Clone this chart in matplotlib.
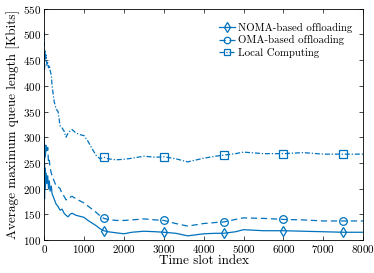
import matplotlib
matplotlib.use("Agg")
import matplotlib.pyplot as plt

# values
xNoma = [0, 10, 20, 30, 50, 70, 90, 110, 130, 150, 180, 200, 250, 300, 350, 400, 450, 500, 550, 600, 650, 700,
         800, 900, 1000, 1100, 1200, 1300, 1400, 1500, 1600, 1800, 2000, 2200, 2500, 2800, 3000, 3300, 3600,
         4000, 4300, 4500, 4800, 5000, 5500, 6000, 6500, 7000, 7500, 8000]
yNoma = [300, 180, 240, 200, 230, 210, 225, 200, 215, 195, 205, 190, 180, 170, 165, 158, 160, 152, 148, 145, 150, 152,
         148, 146, 144, 138, 133, 128, 122, 118, 116, 114, 112, 115, 117, 116, 115, 113, 108,
         112, 113, 113, 116, 120, 118, 118, 117, 116, 115, 115]

xOma = [0, 10, 20, 30, 50, 70, 90, 110, 130, 150, 180, 200, 250, 300, 350, 400, 450, 500, 550, 600, 650, 700,
        800, 900, 1000, 1100, 1200, 1300, 1400, 1500, 1600, 1800, 2000, 2200, 2500, 2800, 3000, 3300, 3600,
        4000, 4300, 4500, 4800, 5000, 5500, 6000, 6500, 7000, 7500, 8000]
yOma = [300, 230, 285, 260, 285, 270, 280, 250, 255, 240, 230, 225, 215, 205, 203, 200, 190, 185, 178, 180, 183, 185,
        180, 176, 172, 166, 160, 154, 147, 142, 140, 138, 138, 139, 141, 139, 138, 132, 127,
        132, 134, 135, 140, 143, 142, 140, 139, 137, 137, 137]

xLocal = [0, 10, 20, 30, 50, 70, 90, 110, 130, 150, 180, 200, 250, 300, 350, 400, 450, 500, 550, 600, 650, 700,
          800, 900, 1000, 1100, 1200, 1300, 1400, 1500, 1600, 1800, 2000, 2200, 2500, 2800, 3000, 3300, 3600,
          4000, 4300, 4500, 4800, 5000, 5500, 6000, 6500, 7000, 7500, 8000]
yLocal = [505, 430, 470, 450, 460, 440, 445, 435, 440, 430, 420, 400, 370, 355, 350, 322, 318, 312, 300, 308, 312, 315,
          308, 305, 303, 292, 278, 265, 258, 261, 258, 256, 257, 259, 263, 261, 262, 258, 252,
          259, 263, 265, 268, 271, 268, 268, 270, 267, 267, 267]

markIdx = [xNoma.index(v) for v in (1500, 3000, 4500, 6000, 7500)]

plt.rcParams['font.family'] = 'serif'
plt.rcParams['font.serif'] = ['cmr10', 'DejaVu Serif']
plt.rcParams['axes.formatter.use_mathtext'] = True
blue = '#0072BD'

fig = plt.figure(figsize=(3.74, 2.73), dpi=100)
ax = fig.add_axes([0.118, 0.121, 0.853, 0.847])
ax.plot(xNoma, yNoma, '-', color=blue, lw=0.9, marker='d', ms=5.5, mfc='none', mew=0.9,
        markevery=markIdx, label='NOMA-based offloading')
ax.plot(xOma, yOma, color=blue, lw=0.9, ls=(0, (5, 3)), marker='o', ms=5.5, mfc='none', mew=0.9,
        markevery=markIdx, label='OMA-based offloading')
ax.plot(xLocal, yLocal, color=blue, lw=0.9, ls=(0, (4, 1.5, 1, 1.5)), marker='s', ms=5.5, mfc='none', mew=0.9,
        markevery=markIdx, label='Local Computing')

ax.set_xlim(0, 8000)
ax.set_ylim(100, 550)
ax.set_xticks(range(0, 8001, 1000))
ax.set_yticks(range(100, 551, 50))
ax.tick_params(direction='in', top=True, right=True, labelsize=8, length=3, width=0.5, pad=2)
for s in ax.spines.values():
    s.set_linewidth(0.6)
ax.set_xlabel('Time slot index', fontsize=9.5, labelpad=0)
ax.set_ylabel('Average maximum queue length [Kbits]', fontsize=9.5, labelpad=2)
ax.legend(loc='upper right', bbox_to_anchor=(0.99, 0.97), frameon=False, fontsize=7.8,
          handlelength=1.5, handletextpad=0.3, labelspacing=0.2, borderpad=0.2, markerscale=0.85)

fig.savefig('out.png', dpi=100)
